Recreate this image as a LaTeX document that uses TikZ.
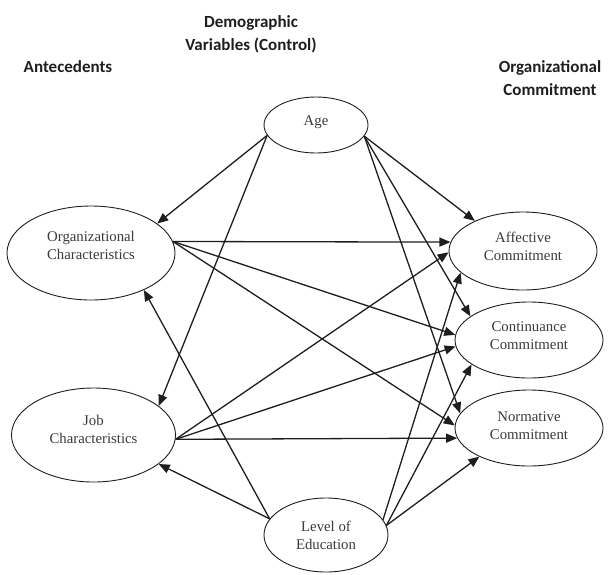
\documentclass[tikz,border=0pt]{standalone}
\usepackage{fontspec}
\setmainfont{Liberation Serif}
\newfontfamily\titlefont{Carlito}
\usetikzlibrary{arrows.meta,shapes.geometric}
\definecolor{ink}{HTML}{1E1E1E}
\definecolor{txtgray}{HTML}{3A3A3A}
\begin{document}
\begin{tikzpicture}[x=1pt,y=-1pt,
  oval/.style={draw=ink, ellipse, line width=0.9pt, inner sep=0pt},
  otext/.style={align=center, text=txtgray, font=\fontsize{14.8}{18}\selectfont, inner sep=0pt},
  ttl/.style={align=center, text=ink, font=\titlefont\bfseries\fontsize{17}{23}\selectfont, inner sep=0pt},
  arr/.style={draw=ink, line width=1.3pt, -{Triangle[length=11pt,width=9pt]}}]
\useasboundingbox (0,0) rectangle (610,574);

% titles (anchor=base refers to the last line's baseline)
\node[ttl, anchor=base] (tant) at (68,72) {Antecedents};
\node[ttl, anchor=base] (tdem) at (251,50) {Demographic\\Variables (Control)};
\node[ttl, anchor=base] (tcom) at (550,95) {Organizational\\Commitment};

% ellipses
\node[oval, minimum width=104pt, minimum height=56pt,
  label={[otext, yshift=3pt]center:Age}] (age) at (316,125) {};
\node[oval, minimum width=168pt, minimum height=94pt,
  label={[otext, yshift=8pt]center:Organizational\\Characteristics}] (org) at (91,253) {};
\node[oval, minimum width=164pt, minimum height=94pt,
  label={[otext, yshift=6pt]center:Job\\Characteristics}] (job) at (93.5,435) {};
\node[oval, minimum width=148pt, minimum height=78pt,
  label={[otext, yshift=5pt]center:Affective\\Commitment}] (aff) at (523,251) {};
\node[oval, minimum width=148pt, minimum height=76pt,
  label={[otext, yshift=4pt]center:Continuance\\Commitment}] (cont) at (529,340) {};
\node[oval, minimum width=148pt, minimum height=76pt,
  label={[otext, yshift=2pt]center:Normative\\Commitment}] (norm) at (529,428) {};
\node[oval, minimum width=124pt, minimum height=74pt,
  label={[otext, yshift=0pt]center:Level of\\Education}] (loe) at (326,535) {};

% Age
\draw[arr] (age.192) -- (org.24);
\draw[arr] (age.192) -- (job.24);
\draw[arr] (age.347) -- (aff.148);
\draw[arr] (age.347) -- (cont.158);
\draw[arr] (age.347) -- (norm.168);
% Organizational characteristics
\draw[arr] (org.8) -- (aff.173);
\draw[arr] (org.8) -- (cont.176);
\draw[arr] (org.8) -- (norm.178);
% Job characteristics
\draw[arr] (job.-3) -- (aff.181);
\draw[arr] (job.-3) -- (cont.185);
\draw[arr] (job.-3) -- (norm.188);
% Level of education
\draw[arr] (loe.164) -- (org.-35);
\draw[arr] (loe.164) -- (job.-24);
\draw[arr] (loe.15) -- (aff.199);
\draw[arr] (loe.9) -- (cont.203);
\draw[arr] (loe.9) -- (norm.210);
\end{tikzpicture}
\end{document}
